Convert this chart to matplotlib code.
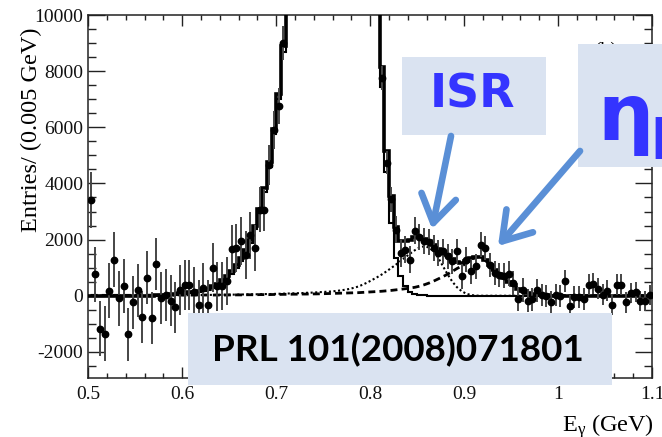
import numpy as np
import matplotlib
matplotlib.use("Agg")
import matplotlib.pyplot as plt
from matplotlib.patches import Rectangle, FancyArrowPatch
from matplotlib.ticker import MultipleLocator, FixedLocator, FixedFormatter

# ---------------- data (120 bins of 0.005 GeV, 0.5 -> 1.1 GeV) ----------------
bin_lo, bin_hi = 0.5, 1.1

entries = [
    3400, 760, -1170, -1360, 170, 1290, -95, 357, -1380, -240,
    190, -760, 640, -785, 1140, -70, 20, -170, -410, 200,
    390, 380, 130, -330, 280, -315, 1000, 330, 340, 520,
    1670, 1700, 1950, 1450, 2150, 1700, 3070, 3050, 4650, 5900,
    6750, 9000, 11800, 13700, 17300, 20200, 24800, 28600, 34300, 38700,
    43400, 45700, 47900, 46600, 45300, 41100, 37400, 31700, 26800, 20700,
    16300, 11600, 7750, 4740, 3430, 2350, 1520, 1640, 1290, 2320,
    2100, 1940, 1900, 1700, 1520, 1580, 1400, 1220, 1580, 690,
    1290, 870, 1050, 1820, 1700, 1110, 810, 750, 720, 790,
    450, -120, 210, -180, -120, 190, 35, 0, -240, 35,
    0, 510, -380, -50, -50, -120, 390, 430, 250, 35,
    180, -320, 390, 390, -240, 95, 130, -200, -200, 35,
]

errors = [
    1000, 990, 990, 980, 980, 970, 970, 960, 960, 950,
    950, 940, 940, 930, 930, 920, 920, 910, 910, 900,
    900, 890, 890, 880, 880, 870, 870, 860, 860, 850,
    850, 850, 840, 840, 830, 830, 800, 760, 720, 680,
    650, 600, 500, 500, 500, 500, 500, 500, 500, 500,
    500, 500, 500, 500, 500, 500, 500, 500, 500, 500,
    500, 480, 420, 420, 450, 480, 480, 480, 480, 480,
    470, 470, 460, 460, 460, 450, 450, 450, 450, 440,
    440, 440, 440, 440, 430, 430, 430, 430, 430, 430,
    420, 420, 420, 410, 410, 410, 400, 400, 400, 400,
    390, 390, 390, 390, 380, 380, 380, 380, 380, 370,
    370, 370, 370, 370, 370, 360, 360, 360, 360, 360,
]

fit_total = [
    0, 0, 0, 0, 0, 0, 0, 0, 0, 0,
    0, 0, 0, 0, 10, 20, 30, 45, 60, 80,
    100, 125, 150, 180, 215, 255, 330, 420, 550, 700,
    880, 1100, 1350, 1620, 2000, 2500, 3100, 3850, 4750, 5950,
    7200, 8900, 11500, 14000, 17000, 20500, 24500, 29000, 34000, 39000,
    43000, 46000, 47500, 47000, 45000, 41500, 37000, 32000, 26500, 21000,
    16000, 12000, 8140, 5150, 3550, 2450, 1950, 1950, 2000, 2080,
    2100, 2020, 1940, 1800, 1660, 1560, 1440, 1300, 1200, 1170,
    1220, 1330, 1390, 1380, 1260, 1100, 930, 790, 640, 500,
    370, 250, 160, 100, 60, 35, 20, 10, 5, 5,
    5, 5, 5, 5, 5, 5, 5, 5, 5, 5,
    5, 5, 5, 5, 5, 5, 5, 5, 5, 5,
]

fit_chib = [
    0, 0, 0, 0, 0, 0, 0, 0, 0, 0,
    0, 0, 0, 0, 0, 0, 5, 15, 25, 45,
    60, 80, 100, 125, 160, 195, 265, 350, 475, 620,
    790, 1000, 1240, 1500, 1870, 2360, 2950, 3690, 4580, 5770,
    7000, 8680, 11300, 13800, 16800, 20300, 24300, 28800, 33800, 38800,
    42800, 45800, 47300, 46800, 44800, 41300, 36800, 31800, 26200, 20600,
    15500, 11300, 7430, 4420, 2600, 1350, 690, 330, 150, 70,
    30, 10, 0, 0, 0, 0, 0, 0, 0, 0,
    0, 0, 0, 0, 0, 0, 0, 0, 0, 0,
    0, 0, 0, 0, 0, 0, 0, 0, 0, 0,
    0, 0, 0, 0, 0, 0, 0, 0, 0, 0,
    0, 0, 0, 0, 0, 0, 0, 0, 0, 0,
]

fit_isr = [
    0, 0, 0, 0, 0, 5, 5, 5, 5, 5,
    10, 10, 10, 10, 10, 15, 15, 15, 15, 20,
    20, 20, 25, 25, 25, 30, 30, 30, 35, 35,
    40, 40, 45, 45, 50, 50, 55, 60, 60, 65,
    70, 75, 80, 85, 90, 95, 105, 110, 120, 130,
    140, 150, 165, 185, 210, 240, 280, 330, 400, 480,
    570, 660, 760, 870, 990, 1110, 1240, 1370, 1500, 1620,
    1720, 1760, 1720, 1580, 1350, 1050, 760, 500, 300, 160,
    70, 25, 5, 0, 0, 0, 0, 0, 0, 0,
    0, 0, 0, 0, 0, 0, 0, 0, 0, 0,
    0, 0, 0, 0, 0, 0, 0, 0, 0, 0,
    0, 0, 0, 0, 0, 0, 0, 0, 0, 0,
]

fit_etab = [
    15, 15, 15, 15, 15, 15, 15, 15, 15, 15,
    20, 20, 20, 20, 20, 20, 20, 20, 20, 20,
    25, 25, 25, 25, 25, 25, 25, 25, 25, 25,
    30, 30, 30, 35, 35, 35, 40, 40, 40, 45,
    45, 50, 50, 55, 55, 60, 60, 65, 65, 70,
    75, 80, 85, 90, 95, 100, 105, 110, 120, 130,
    140, 150, 160, 175, 190, 210, 230, 250, 275, 300,
    340, 390, 450, 520, 600, 680, 770, 870, 970, 1060,
    1150, 1300, 1380, 1380, 1260, 1100, 930, 790, 640, 500,
    370, 250, 160, 100, 60, 35, 20, 10, 5, 5,
    5, 5, 5, 5, 5, 5, 5, 5, 5, 5,
    5, 5, 5, 5, 5, 5, 5, 5, 5, 5,
]

x_ticks = [0.5, 0.6, 0.7, 0.8, 0.9, 1.0, 1.1]
x_tick_labels = ["0.5", "0.6", "0.7", "0.8", "0.9", "1", "1.1"]
y_ticks = [-2000, 0, 2000, 4000, 6000, 8000, 10000]
y_tick_labels = ["-2000", "0", "2000", "4000", "6000", "8000", "10000"]

# ---------------- figure ----------------
W, H = 662, 437
plt.rcParams["mathtext.fontset"] = "custom"
plt.rcParams["mathtext.rm"] = "Liberation Serif"
plt.rcParams["mathtext.it"] = "Liberation Serif:italic"

fig = plt.figure(figsize=(W / 100, H / 100), dpi=100)
fig.patch.set_facecolor("white")


def fx(px):
    return px / W


def fy(py):
    return 1 - py / H


ax = fig.add_axes([fx(88.3), fy(378), fx(652) - fx(88.3), fy(15) - fy(378)])

edges = np.linspace(bin_lo, bin_hi, len(entries) + 1)
centers = 0.5 * (edges[:-1] + edges[1:])

ax.plot(centers, fit_isr, color="black", lw=1.5, ls=(0, (1, 1.2)), zorder=2)
ax.plot(centers, fit_etab, color="black", lw=2.0, ls=(0, (2.5, 1.5)), zorder=2)
ax.stairs(fit_chib, edges, color="black", lw=1.5, baseline=None, zorder=3)
ax.stairs(fit_total, edges, color="black", lw=2.6, baseline=None, zorder=3)
ax.errorbar(centers, entries, yerr=errors, fmt="o", color="black", ms=4.6,
            ecolor="#454545", elinewidth=1.4, capsize=0, zorder=4)

ax.set_xlim(bin_lo, bin_hi)
ax.set_ylim(-2930, 10000)

serif = "Liberation Serif"
ax.xaxis.set_major_locator(FixedLocator(x_ticks))
ax.xaxis.set_major_formatter(FixedFormatter(x_tick_labels))
ax.yaxis.set_major_locator(FixedLocator(y_ticks))
ax.yaxis.set_major_formatter(FixedFormatter(y_tick_labels))
ax.xaxis.set_minor_locator(MultipleLocator(0.02))
ax.yaxis.set_minor_locator(MultipleLocator(500))
ax.tick_params(which="both", direction="in", top=True, right=True,
               width=1.0, color="#222222")
ax.tick_params(axis="x", which="major", length=8, pad=6)
ax.tick_params(axis="x", which="minor", length=3.8)
ax.tick_params(axis="y", which="major", length=12, pad=3.5)
ax.tick_params(axis="y", which="minor", length=6)
for lab in ax.get_xticklabels() + ax.get_yticklabels():
    lab.set_fontfamily(serif)
    lab.set_fontsize(14)
    lab.set_color("#111111")
for sp in ax.spines.values():
    sp.set_linewidth(1.1)
    sp.set_color("#222222")

ax.set_xlabel(r"E$_{\mathrm{\gamma}}$ (GeV)", fontfamily=serif, fontsize=17.5,
              loc="right")
ax.xaxis.set_label_coords((654 - 88.3) / 563.7, (378 - 412) / 363)
ax.set_ylabel("Entries/ (0.005 GeV)", fontfamily=serif, fontsize=17.5, loc="top")
ax.yaxis.label.set_rotation_mode("default")
ax.yaxis.label.set_ha("center")
ax.yaxis.label.set_va("top")
ax.yaxis.set_label_coords((31 - 88.3) / 563.7, (378 - 27) / 363)

# panel label, mostly hidden behind the eta_b box
ax.text((606 - 88.3) / 563.7, (378 - 42) / 363, "(b)", transform=ax.transAxes,
        fontfamily=serif, fontsize=14, ha="center", va="top", zorder=1)

# ---------------- annotation boxes ----------------
box_col = "#DAE3F1"
txt_col = "#3434FF"
arr_col = "#5A8FD6"


def fig_rect(x0, y0, x1, y1):
    r = Rectangle((fx(x0), fy(y1)), fx(x1) - fx(x0), fy(y0) - fy(y1),
                  transform=fig.transFigure, facecolor=box_col,
                  edgecolor="none", zorder=5)
    fig.add_artist(r)


fig_rect(401.7, 57.3, 546, 135)
fig_rect(578.3, 44.3, 670, 166.7)
fig_rect(188, 313.3, 611.7, 385)

fig.text(fx(473), fy(95), "ISR", color=txt_col, fontsize=33,
         fontweight="bold", family="DejaVu Sans", ha="center", va="center",
         zorder=6)
fig.text(fx(597), fy(140), "η", color=txt_col, fontsize=57,
         fontweight="bold", family="DejaVu Sans", ha="left", va="baseline",
         zorder=6)
fig.text(fx(650), fy(158), "b", color=txt_col, fontsize=40,
         fontweight="bold", family="DejaVu Sans", ha="left", va="baseline",
         zorder=6)
fig.text(fx(398), fy(350), "PRL 101(2008)071801", color="black", fontsize=26.5,
         fontweight="bold", family="Lato", ha="center", va="center", zorder=6)

for (x0, y0), (x1, y1) in [((451, 136), (432, 229)), ((580, 151), (498, 246))]:
    a = FancyArrowPatch((fx(x0), fy(y0)), (fx(x1), fy(y1)),
                        transform=fig.transFigure,
                        arrowstyle="->,head_length=0.65,head_width=0.42",
                        mutation_scale=30, lw=4.8, color=arr_col,
                        capstyle="round", joinstyle="round",
                        shrinkA=0, shrinkB=0, zorder=7)
    fig.add_artist(a)

fig.savefig("out.png", dpi=100)
